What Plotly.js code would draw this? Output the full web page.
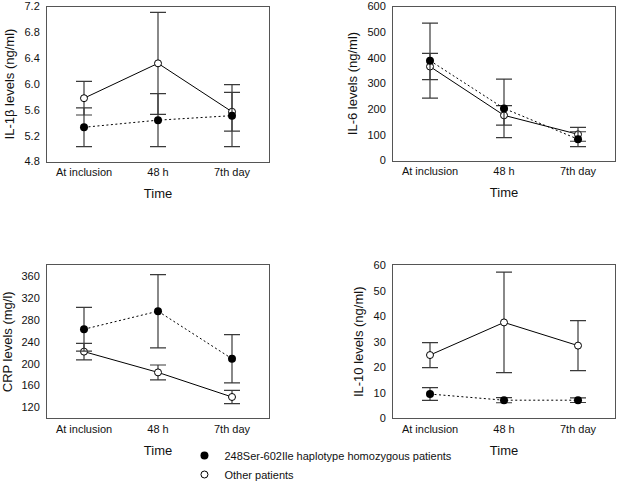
<!DOCTYPE html>
<html>
<head>
<meta charset="utf-8">
<script src="https://cdn.plot.ly/plotly-3.0.1.min.js"></script>
<style>html,body{margin:0;padding:0;background:#fff;}#chart{width:619px;height:489px;}</style>
</head>
<body>
<div id="chart"></div>
<script>
// ---- data ----
var categories = ['At inclusion', '48 h', '7th day'];

var il1bHomo = [5.33, 5.44, 5.51];
var il1bHomoErr = [0.30, 0.41, 0.48];
var il1bOther = [5.78, 6.32, 5.57];
var il1bOtherErr = [0.26, 0.79, 0.30];

var il6Homo = [389, 203, 83];
var il6HomoErr = [146, 114, 29];
var il6Other = [366, 176, 102];
var il6OtherErr = [51, 38, 27];

var crpHomo = [263, 296, 209];
var crpHomoErr = [40, 67, 44];
var crpOther = [222, 184, 139];
var crpOtherErr = [15, 13.5, 12];

var il10Homo = [9.5, 7.1, 7.1];
var il10HomoErr = [2.5, 1.0, 0.9];
var il10Other = [24.8, 37.6, 28.5];
var il10OtherErr = [4.9, 19.7, 9.8];

var seriesNames = ['248Ser-602Ile haplotype homozygous patients', 'Other patients'];

// ---- styles ----
var errColor = '#3a3a3a';
function errBar(arr) {
  return {type: 'data', array: arr, visible: true, color: errColor, thickness: 1.2, width: 8};
}
function otherTrace(y, err, xa, ya) {
  return {
    x: categories, y: y, xaxis: xa, yaxis: ya, type: 'scatter', mode: 'lines+markers',
    line: {color: '#000', width: 1, dash: 'solid'},
    marker: {symbol: 'circle', size: 7, color: '#fff', line: {color: '#000', width: 1}},
    error_y: errBar(err), showlegend: false, hoverinfo: 'skip'
  };
}
function homoTrace(y, err, xa, ya) {
  return {
    x: categories, y: y, xaxis: xa, yaxis: ya, type: 'scatter', mode: 'lines+markers',
    line: {color: '#000', width: 1, dash: '2px,2.5px'},
    marker: {symbol: 'circle', size: 8, color: '#000', line: {color: '#000', width: 0}},
    error_y: errBar(err), showlegend: false, hoverinfo: 'skip'
  };
}

var data = [
  otherTrace(il1bOther, il1bOtherErr, 'x', 'y'),
  homoTrace(il1bHomo, il1bHomoErr, 'x', 'y'),
  otherTrace(il6Other, il6OtherErr, 'x2', 'y2'),
  homoTrace(il6Homo, il6HomoErr, 'x2', 'y2'),
  otherTrace(crpOther, crpOtherErr, 'x3', 'y3'),
  homoTrace(crpHomo, crpHomoErr, 'x3', 'y3'),
  otherTrace(il10Other, il10OtherErr, 'x4', 'y4'),
  homoTrace(il10Homo, il10HomoErr, 'x4', 'y4'),
  {x: [null], y: [null], xaxis: 'x', yaxis: 'y', type: 'scatter', mode: 'markers', name: seriesNames[0],
   marker: {symbol: 'circle', size: 8, color: '#000'}, showlegend: true},
  {x: [null], y: [null], xaxis: 'x', yaxis: 'y', type: 'scatter', mode: 'markers', name: seriesNames[1],
   marker: {symbol: 'circle', size: 7, color: '#fff', line: {color: '#000', width: 1}}, showlegend: true}
];

var W = 619, H = 489;
function dx(a, b) { return [a / W, b / W]; }
function dy(top, bottom) { return [1 - bottom / H, 1 - top / H]; }

var tickFont = {family: 'Liberation Sans, Arial, sans-serif', size: 11, color: '#111'};
var titleFont = {family: 'Liberation Sans, Arial, sans-serif', size: 13, color: '#111'};

function xAxis(domain, anchor) {
  return {
    domain: domain, anchor: anchor, type: 'category', range: [-0.5, 2.5],
    showline: true, mirror: true, linecolor: '#555', linewidth: 1,
    ticks: '', showgrid: false, zeroline: false, tickfont: tickFont,
    title: {text: 'Time', font: titleFont, standoff: 12}, automargin: false, fixedrange: true
  };
}
function yAxis(domain, anchor, range, tick0, dtick, fmt, title) {
  return {
    domain: domain, anchor: anchor, range: range, tick0: tick0, dtick: dtick, tickformat: fmt,
    showline: true, mirror: true, linecolor: '#555', linewidth: 1,
    ticks: '', showgrid: false, zeroline: false, tickfont: tickFont, ticklabelstandoff: 4,
    title: {text: title, font: titleFont, standoff: 6}, automargin: false, fixedrange: true
  };
}

var layout = {
  width: W, height: H,
  margin: {l: 0, r: 0, t: 0, b: 0},
  paper_bgcolor: '#fff', plot_bgcolor: '#fff',
  showlegend: true,
  legend: {x: 0.298, y: 0, xanchor: 'left', yanchor: 'bottom', bgcolor: 'rgba(0,0,0,0)',
           font: {family: 'Liberation Sans, Arial, sans-serif', size: 11, color: '#111'},
           itemwidth: 30, tracegroupgap: 0},
  xaxis: xAxis(dx(47, 269), 'y'),
  yaxis: yAxis(dy(6.5, 161.5), 'x', [4.8, 7.2], 4.8, 0.4, '.1f', 'IL-1β levels (ng/ml)'),
  xaxis2: xAxis(dx(393, 615), 'y2'),
  yaxis2: yAxis(dy(6.5, 160.5), 'x2', [0, 600], 0, 100, '', 'IL-6 levels (ng/ml)'),
  xaxis3: xAxis(dx(47, 269), 'y3'),
  yaxis3: yAxis(dy(265.3, 418.3), 'x3', [100, 380], 120, 40, '', 'CRP levels (mg/l)'),
  xaxis4: xAxis(dx(393, 615), 'y4'),
  yaxis4: yAxis(dy(265.3, 418.3), 'x4', [0, 60], 0, 10, '', 'IL-10 levels (ng/ml)')
};

Plotly.newPlot('chart', data, layout, {displayModeBar: false, staticPlot: true});
</script>
</body>
</html>
